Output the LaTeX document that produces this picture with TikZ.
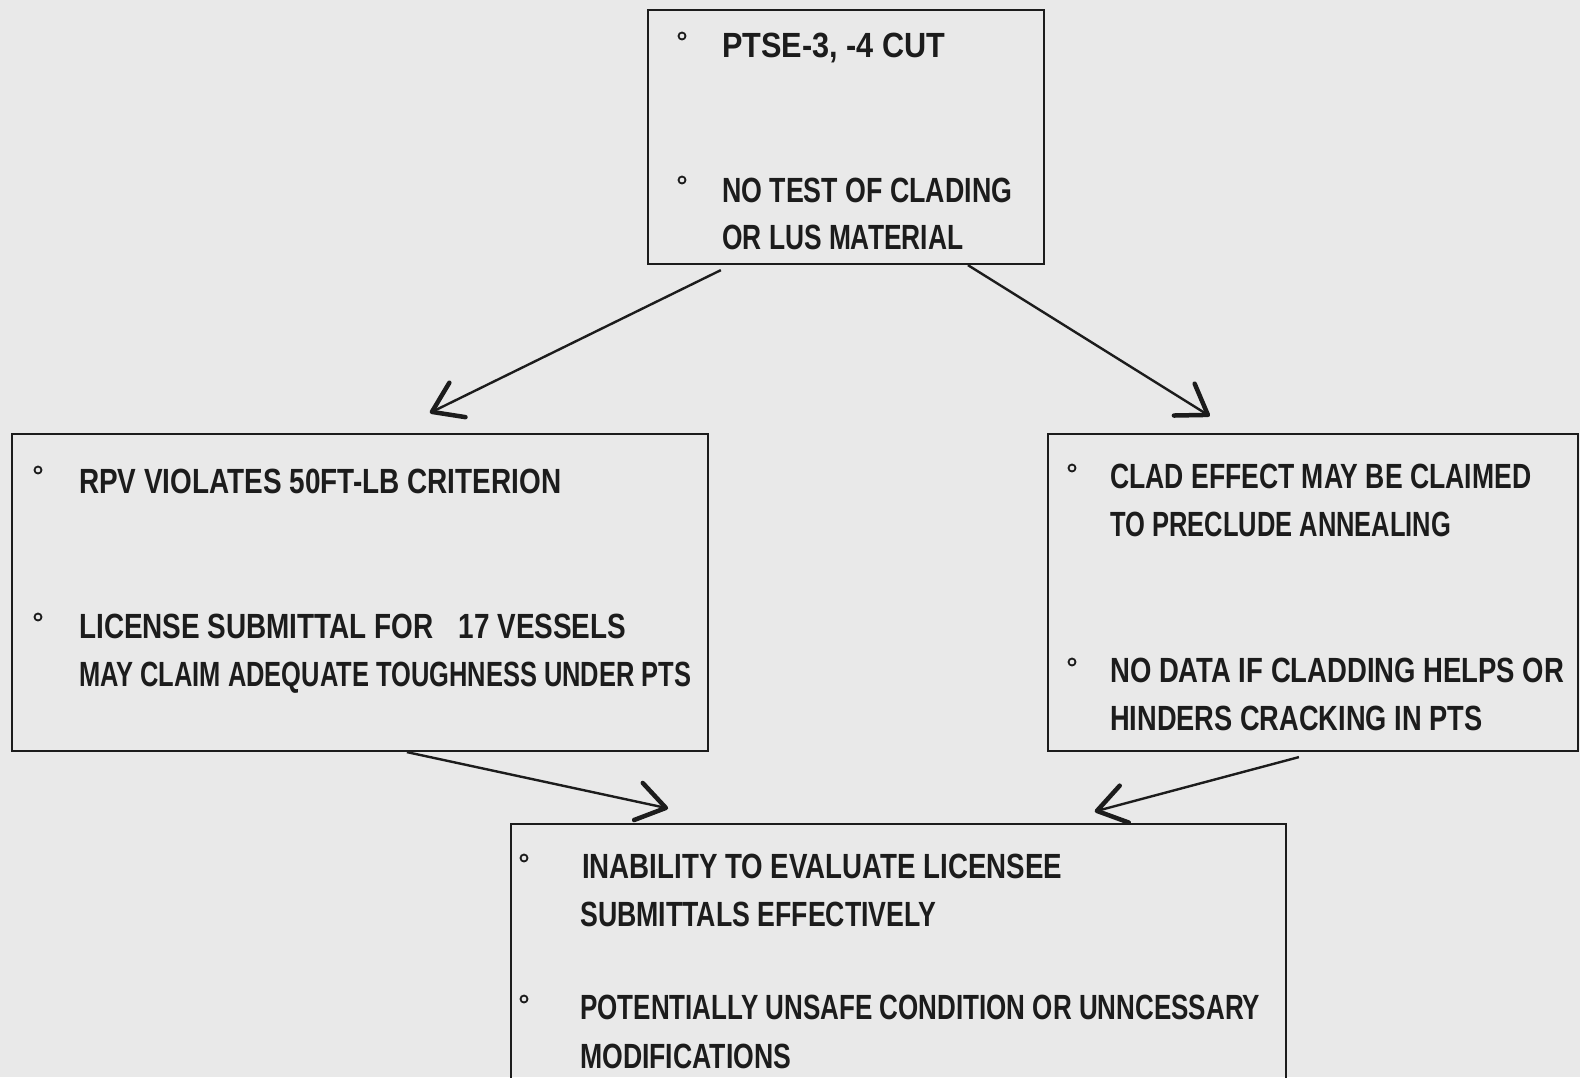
\documentclass[tikz,border=0pt]{standalone}
\usepackage{fontspec}
\usepackage{graphicx}
\setmainfont{Liberation Sans}
\usetikzlibrary{calc}
\definecolor{paper}{RGB}{233,233,233}
\definecolor{ink}{RGB}{28,28,28}
\newcommand\fitw[2]{\resizebox{#1pt}{\height}{#2}}
\begin{document}
\begin{tikzpicture}[x=1pt,y=-1pt,
  box/.style={draw=ink, line width=2.2pt, rectangle, inner sep=0pt},
  txt/.style={anchor=base west, inner sep=0pt, text=ink, font=\fontsize{35}{40}\selectfont\bfseries},
  bul/.style={circle, draw=ink, line width=1.8pt, minimum size=7pt, inner sep=0pt},
  shaft/.style={draw=ink, line width=2.4pt},
  head/.style={draw=ink, line width=4.5pt, line cap=round, line join=round}]
\fill[paper] (0,0) rectangle (1580,1077);
\useasboundingbox (0,0) rectangle (1580,1077);
\clip (0,0) rectangle (1580,1077);

% boxes
\node[box, minimum width=396pt, minimum height=254pt] (top) at (846,137) {};
\node[box, minimum width=696pt, minimum height=317pt] (left) at (360,592.5) {};
\node[box, minimum width=530pt, minimum height=317pt] (right) at (1313,592.5) {};
\node[box, minimum width=775pt, minimum height=276pt] (bottom) at (898.5,962) {};

% top box text
\node[bul] (b1) at (682,36) {};
\node[txt] (t1) at (722,57) {\fitw{223}{PTSE-3, -4 CUT}};
\node[bul] (b2) at (682,180) {};
\node[txt] (t2) at (722,202) {\fitw{290}{NO TEST OF CLADING}};
\node[txt] (t3) at (722,249) {\fitw{241}{OR LUS MATERIAL}};

% left box text
\node[bul] (b3) at (38,470) {};
\node[txt] (l1) at (79,493) {\fitw{482}{RPV VIOLATES 50FT-LB CRITERION}};
\node[bul] (b4) at (38,617) {};
\node[txt] (l2) at (79,638) {\fitw{547}{LICENSE SUBMITTAL FOR\hspace{0.9em}17 VESSELS}};
\node[txt] (l3) at (79,686) {\fitw{612}{MAY CLAIM ADEQUATE TOUGHNESS UNDER PTS}};

% right box text
\node[bul] (b5) at (1072,468) {};
\node[txt] (r1) at (1110,488) {\fitw{421}{CLAD EFFECT MAY BE CLAIMED}};
\node[txt] (r2) at (1110,536) {\fitw{341}{TO PRECLUDE ANNEALING}};
\node[bul] (b6) at (1072,662) {};
\node[txt] (r3) at (1110,682) {\fitw{454}{NO DATA IF CLADDING HELPS OR}};
\node[txt] (r4) at (1110,730) {\fitw{372}{HINDERS CRACKING IN PTS}};

% bottom box text
\node[bul] (b7) at (524,858) {};
\node[txt] (u1) at (582,878) {\fitw{480}{INABILITY TO EVALUATE LICENSEE}};
\node[txt] (u2) at (580,926) {\fitw{356}{SUBMITTALS EFFECTIVELY}};
\node[bul] (b8) at (524,999) {};
\node[txt] (u3) at (580,1019) {\fitw{680}{POTENTIALLY UNSAFE CONDITION OR UNNCESSARY}};
\node[txt] (u4) at (580,1068) {\fitw{211}{MODIFICATIONS}};

% connector end points
\coordinate (a1s) at ([xshift=74pt,yshift=-5pt]top.south west);
\coordinate (a1e) at ([xshift=421pt,yshift=21pt]left.north west);
\coordinate (a2s) at ([xshift=321pt]top.south west);
\coordinate (a2e) at ([xshift=161pt,yshift=18pt]right.north west);
\coordinate (a3s) at ([xshift=396pt]left.south west);
\coordinate (a3e) at ([xshift=156pt,yshift=15pt]bottom.north west);
\coordinate (a4s) at ([xshift=252pt,yshift=-5pt]right.south west);
\coordinate (a4e) at ([xshift=587pt,yshift=12pt]bottom.north west);

\foreach \s/\e in {a1s/a1e, a2s/a2e, a3s/a3e, a4s/a4e}{
  \draw[shaft] (\s) -- (\e);
  \draw[head] ($(\e)!34pt!-35:(\s)$) -- (\e) -- ($(\e)!34pt!33:(\s)$);
}
\end{tikzpicture}
\end{document}
